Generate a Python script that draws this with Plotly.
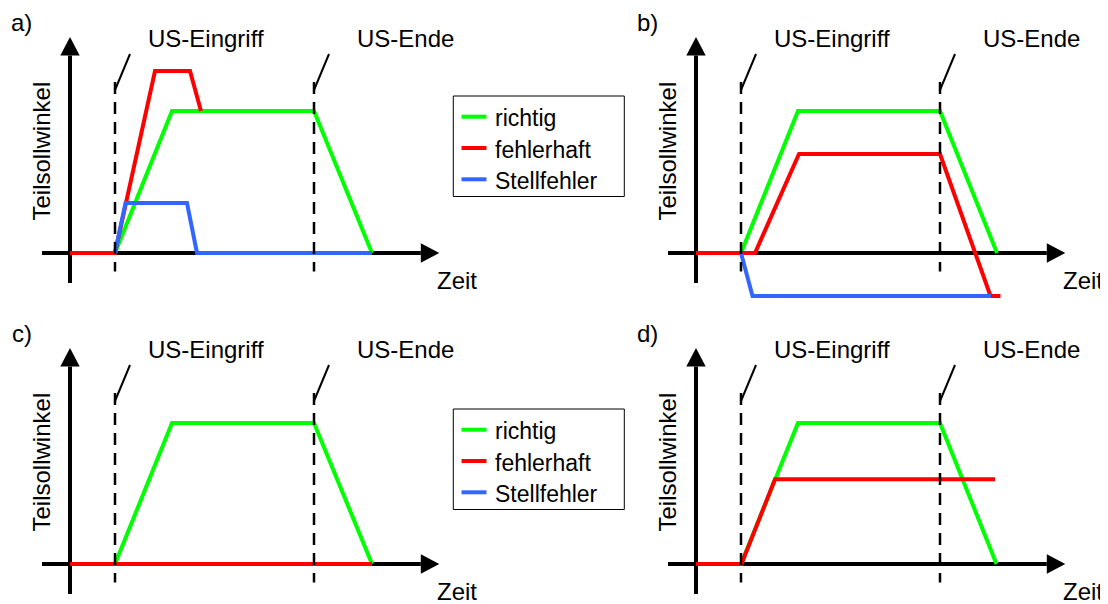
import plotly.graph_objects as go

# The page body has an 8 px margin; the figure is sized/offset to fill the window.
OFF = 8
WIN_W, WIN_H = 1108, 604
W, H = WIN_W - OFF, WIN_H - OFF
S = 10.0  # pixels per data unit (same on both axes)

# ---------------- data (Zeit, Teilsollwinkel), arbitrary units ----------------
us_eingriff = 4.5
us_ende = 24.4

a_richtig_t = [4.5, 10.2, 24.4, 30.2]
a_richtig_v = [0, 14.2, 14.2, 0]
a_fehler_t = [0, 4.5, 8.5, 12.0, 13.1]
a_fehler_v = [0, 0, 18.2, 18.2, 14.2]
a_stell_t = [4.5, 5.55, 11.7, 12.7, 30.2]
a_stell_v = [0, 5.0, 5.0, 0, 0]

b_richtig_t = [4.5, 10.2, 24.4, 30.1]
b_richtig_v = [0, 14.2, 14.2, 0]
b_fehler_t = [0, 5.9, 10.3, 24.4, 29.45, 30.45]
b_fehler_v = [0, 0, 9.9, 9.9, -4.3, -4.3]
b_stell_t = [4.5, 5.65, 29.5]
b_stell_v = [0, -4.3, -4.3]

c_richtig_t = [4.5, 10.2, 24.4, 30.2]
c_richtig_v = [0, 14.1, 14.1, 0]
c_fehler_t = [0, 30.2]
c_fehler_v = [0, 0]

d_richtig_t = [4.5, 10.2, 24.4, 30.05]
d_richtig_v = [0, 14.1, 14.1, 0]
d_fehler_t = [0, 4.55, 7.9, 29.9]
d_fehler_v = [0, 0, 8.47, 8.47]

series_names = ["richtig", "fehlerhaft", "Stellfehler"]
panel_labels = ["a)", "b)", "c)", "d)"]
event_labels = ["US-Eingriff", "US-Ende"]
x_title = "Zeit"
y_title = "Teilsollwinkel"

# ---------------- styling ----------------
colors = {"richtig": "#00FF00", "fehlerhaft": "#FF0000", "Stellfehler": "#3366FF"}
FONT = "Liberation Sans, Arial, sans-serif"
FS = 24
FS_LEG = 23

# panel boxes in window pixels: (x0, x1, y0, y1, origin_x, origin_y)
panels = [
    (OFF, 554, OFF, 310, 70, 253),
    (554, WIN_W, OFF, 310, 696, 253),
    (OFF, 554, 310, WIN_H, 70, 564),
    (554, WIN_W, 310, WIN_H, 696, 564),
]

panel_series = [
    [(a_richtig_t, a_richtig_v), (a_fehler_t, a_fehler_v), (a_stell_t, a_stell_v)],
    [(b_richtig_t, b_richtig_v), (b_fehler_t, b_fehler_v), (b_stell_t, b_stell_v)],
    [(c_richtig_t, c_richtig_v), (c_fehler_t, c_fehler_v), None],
    [(d_richtig_t, d_richtig_v), (d_fehler_t, d_fehler_v), None],
]

fig = go.Figure()
layout = dict(
    width=W, height=H,
    margin=dict(l=0, r=0, t=0, b=0),
    paper_bgcolor="white", plot_bgcolor="rgba(0,0,0,0)",
    font=dict(family=FONT, size=FS, color="black"),
    shapes=[], annotations=[], showlegend=False,
)

def px_x(x):  # window px -> paper fraction
    return (x - OFF) / W

def px_y(y):
    return 1 - (y - OFF) / H

# axis decoration geometry (data units)
x_axis_start, x_axis_tip = -2.8, 36.93
y_axis_start, y_axis_tip = -3.0, 21.6
head_len, head_half = 1.85, 0.97
dash_top, dash_bottom = 17.1, -1.85
slash_low, slash_high, slash_dx = 16.3, 19.9, 1.5

for i, (x0, x1, y0, y1, ox, oy) in enumerate(panels):
    n = "" if i == 0 else str(i + 1)
    xr, yr = "x" + n, "y" + n
    layout["xaxis" + n] = dict(
        domain=[px_x(x0), px_x(x1)], range=[(x0 - ox) / S, (x1 - ox) / S],
        visible=False, fixedrange=True, anchor=yr,
    )
    layout["yaxis" + n] = dict(
        domain=[px_y(y1), px_y(y0)], range=[(oy - y1) / S, (oy - y0) / S],
        visible=False, fixedrange=True, anchor=xr,
    )
    # axes with arrowheads (below the data lines)
    layout["shapes"] += [
        dict(type="line", xref=xr, yref=yr, x0=x_axis_start, y0=0, layer="below",
             x1=x_axis_tip - head_len, y1=0, line=dict(color="black", width=4)),
        dict(type="line", xref=xr, yref=yr, x0=0, y0=y_axis_start, layer="below",
             x1=0, y1=y_axis_tip - head_len, line=dict(color="black", width=4)),
        dict(type="path", xref=xr, yref=yr, fillcolor="black", line=dict(width=0),
             layer="below",
             path=f"M{x_axis_tip - head_len},{-head_half} L{x_axis_tip},0 "
                  f"L{x_axis_tip - head_len},{head_half} Z"),
        dict(type="path", xref=xr, yref=yr, fillcolor="black", line=dict(width=0),
             layer="below",
             path=f"M{-head_half},{y_axis_tip - head_len} L0,{y_axis_tip} "
                  f"L{head_half},{y_axis_tip - head_len} Z"),
    ]
    # event markers: dashed line + slash
    for ev in (us_eingriff, us_ende):
        layout["shapes"] += [
            dict(type="line", xref=xr, yref=yr, x0=ev, y0=dash_top, x1=ev, y1=dash_bottom,
                 line=dict(color="black", width=2.5, dash="12px,8px")),
            dict(type="line", xref=xr, yref=yr, x0=ev, y0=slash_low,
                 x1=ev + slash_dx, y1=slash_high, line=dict(color="black", width=2)),
        ]
    # texts
    layout["annotations"] += [
        dict(text=panel_labels[i], xref=xr, yref=yr, x=-4.85, y=23.1, showarrow=False,
             xanchor="center", yanchor="middle"),
        dict(text=event_labels[0], xref=xr, yref=yr, x=13.62, y=21.47, showarrow=False,
             xanchor="center", yanchor="middle"),
        dict(text=event_labels[1], xref=xr, yref=yr, x=33.5, y=21.47, showarrow=False,
             xanchor="center", yanchor="middle"),
        dict(text=x_title, xref=xr, yref=yr, x=38.65, y=-2.72, showarrow=False,
             xanchor="center", yanchor="middle"),
        dict(text=y_title, xref=xr, yref=yr, x=-2.95, y=10.2, showarrow=False,
             textangle=-90, xanchor="center", yanchor="middle"),
    ]
    # series
    for k, ser in enumerate(panel_series[i]):
        if ser is None:
            continue
        name = series_names[k]
        fig.add_trace(go.Scatter(
            x=ser[0], y=ser[1], mode="lines", name=name,
            line=dict(color=colors[name], width=4),
            xaxis=xr, yaxis=yr, showlegend=False, hoverinfo="skip",
        ))

# legend boxes (drawn next to panels a and c), window pixel geometry
legend_tops = [96, 409]
leg_left, leg_right, leg_h = 453.3, 624.3, 100.5
leg_rows = [20.7, 52.0, 83.3]
for top in legend_tops:
    layout["shapes"].append(dict(
        type="rect", xref="paper", yref="paper",
        x0=px_x(leg_left), x1=px_x(leg_right), y0=px_y(top + leg_h), y1=px_y(top),
        line=dict(color="black", width=1), fillcolor="white", layer="above"))
    for k, name in enumerate(series_names):
        yy = top + leg_rows[k]
        layout["shapes"].append(dict(
            type="line", xref="paper", yref="paper",
            x0=px_x(461.5), x1=px_x(486.5), y0=px_y(yy), y1=px_y(yy),
            line=dict(color=colors[name], width=4), layer="above"))
        layout["annotations"].append(dict(
            text=name, xref="paper", yref="paper", x=px_x(492.5), y=px_y(yy + 1.5),
            xanchor="left", yanchor="middle", showarrow=False,
            font=dict(family=FONT, size=FS_LEG, color="black")))

fig.update_layout(**layout)
fig.write_html("out.html")
